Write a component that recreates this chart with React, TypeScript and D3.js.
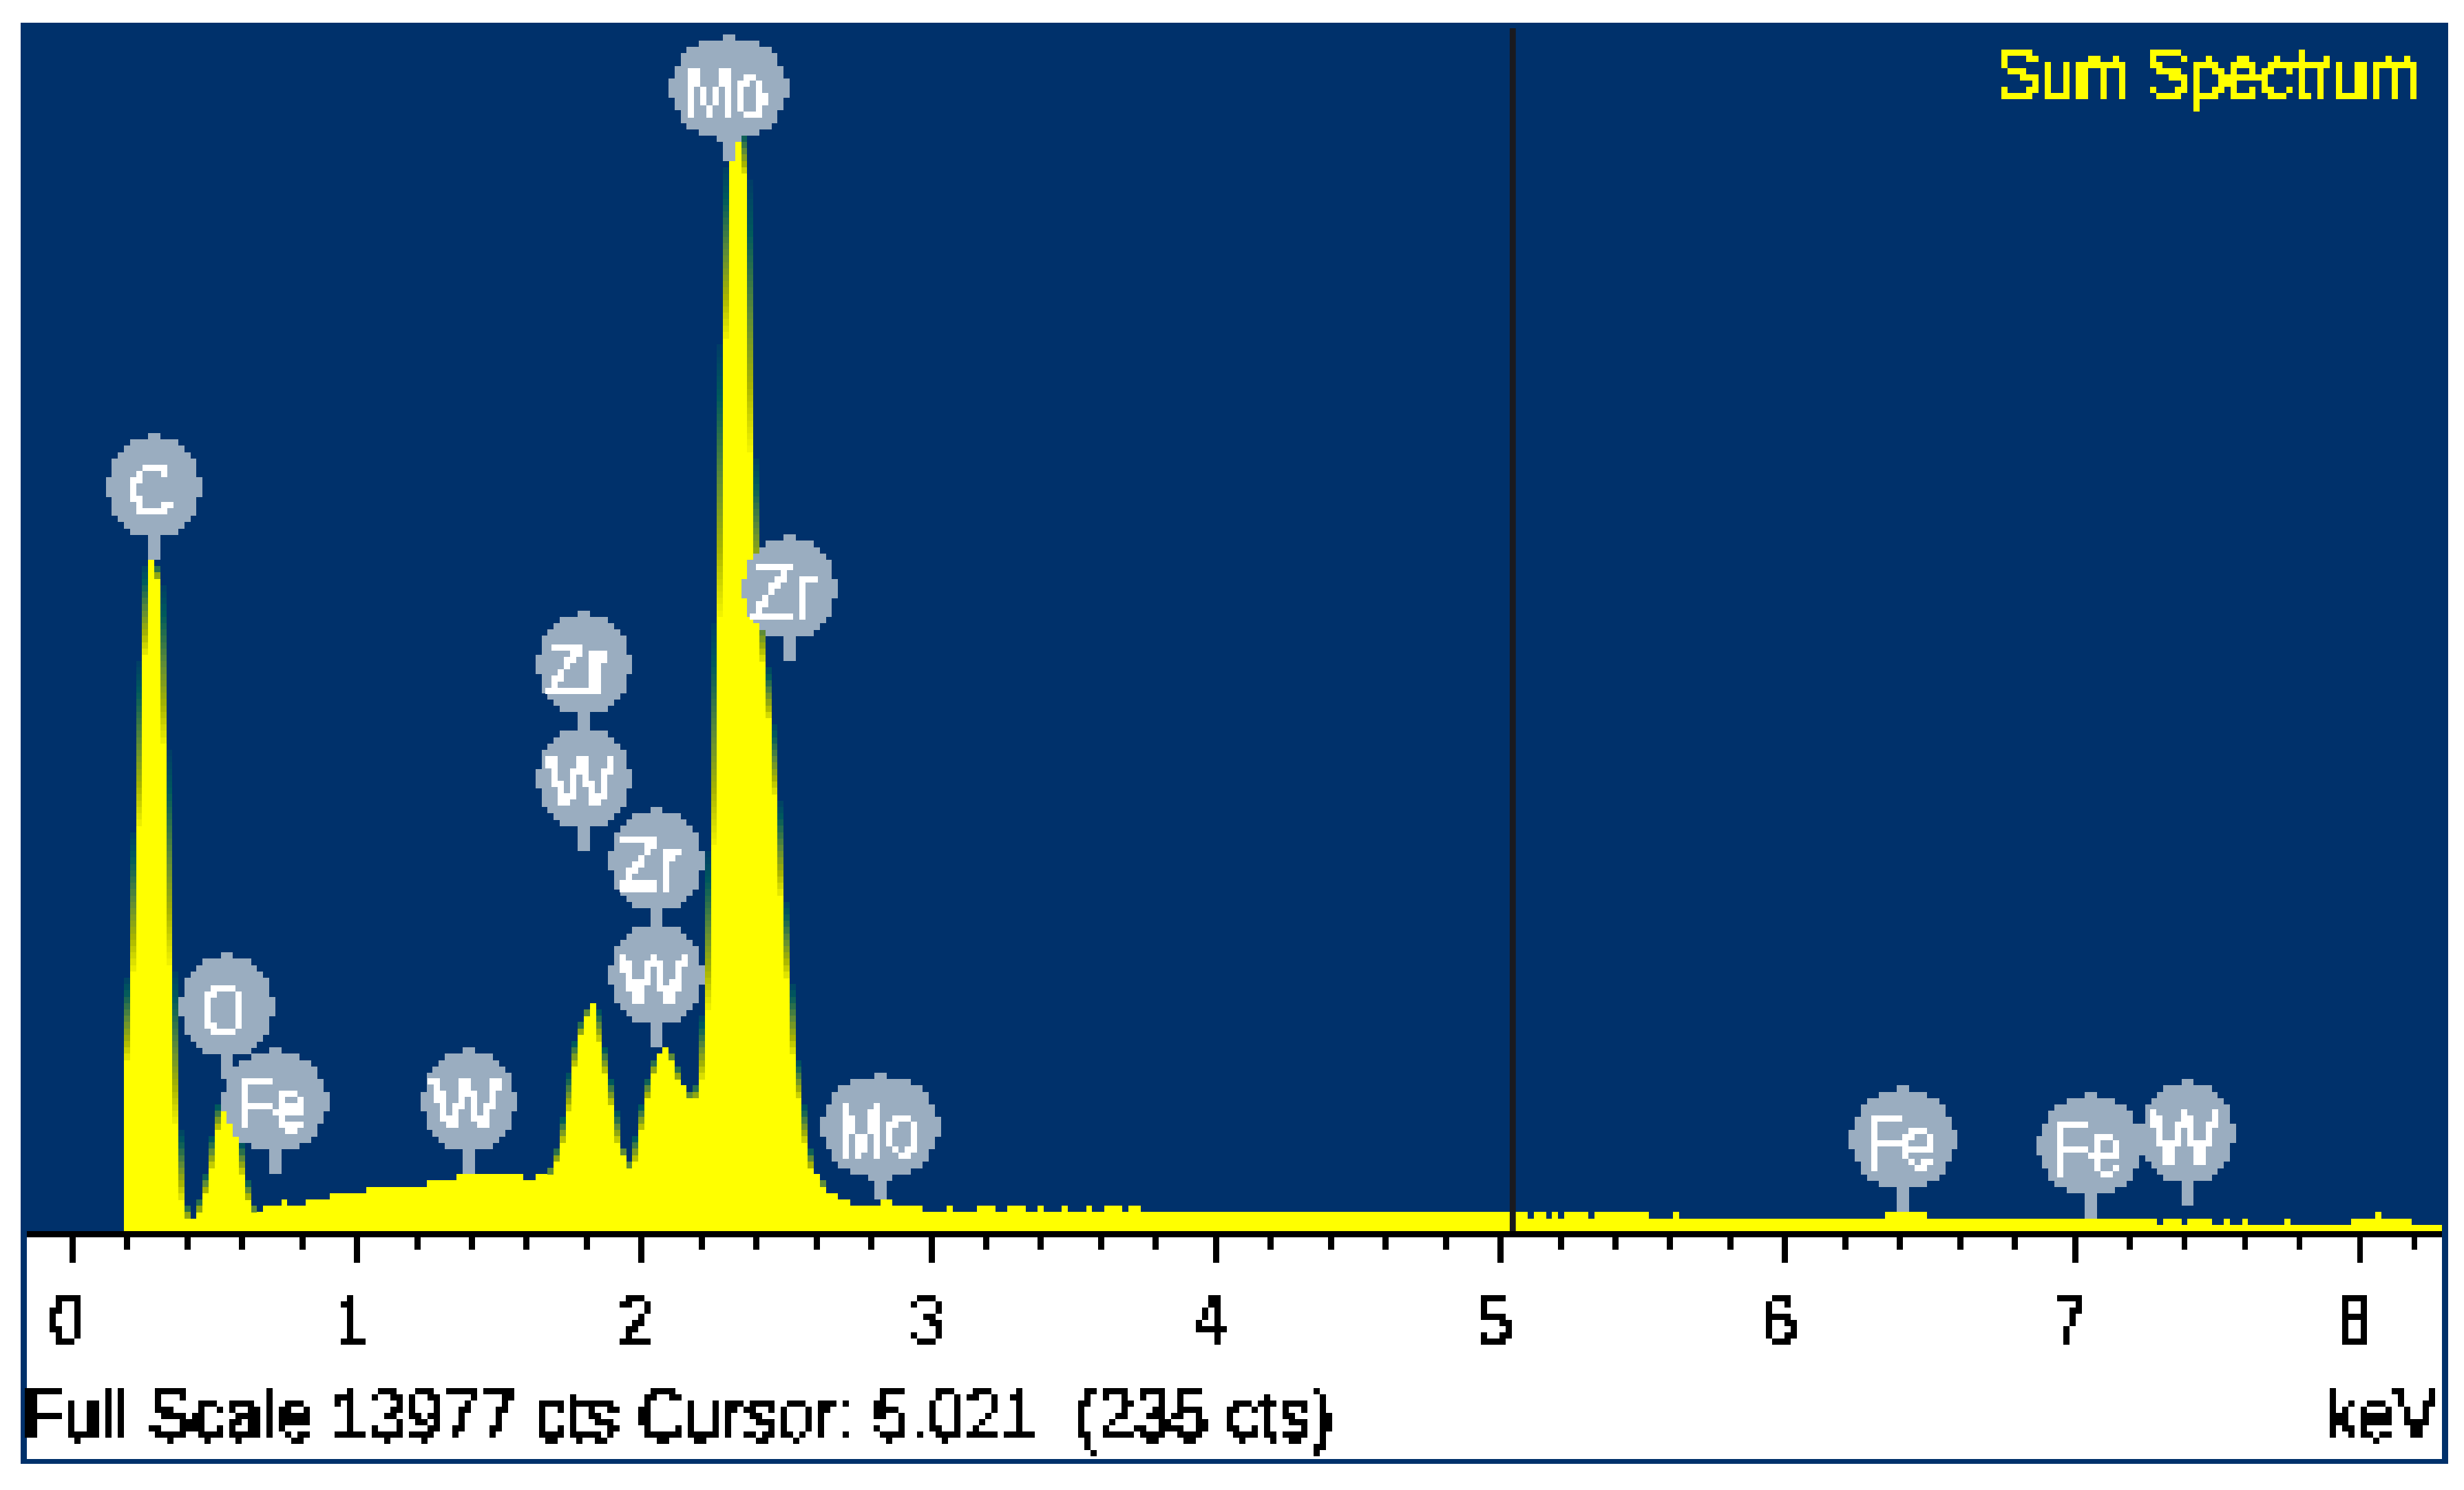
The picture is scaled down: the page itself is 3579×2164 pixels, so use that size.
import React from "react";
import * as d3 from "d3";

// Display columns of the spectrum, run-length: first column of a run and its height in screen rows
const runStarts = [
  0, 1, 2, 3, 4, 5, 6, 7, 8, 9, 10, 12, 13, 14, 15, 16, 17, 18, 19, 20, 21, 23, 26, 27, 30, 34, 40, 50, 55, 66, 68, 71,
  72, 73, 74, 75, 76, 77, 78, 79, 80, 81, 82, 83, 84, 85, 86, 87, 88, 89, 90, 91, 92, 93, 95, 96, 97, 98, 99, 100, 101,
  102, 103, 104, 105, 106, 107, 108, 109, 110, 111, 112, 113, 114, 115, 116, 118, 120, 125, 127, 132, 136, 137, 141,
  144, 146, 149, 151, 152, 155, 156, 159, 160, 162, 165, 166, 168, 232, 233, 235, 236, 237, 238, 242, 243, 252, 256,
  257, 291, 298, 336, 337, 340, 341, 345, 347, 348, 350, 351, 357, 358, 368, 372, 373, 378,
];
const runRows = [
  27, 41, 64, 91, 106, 103, 77, 42, 17, 5, 2, 3, 6, 10, 16, 21, 19, 15, 9, 5, 3, 4, 5, 4, 5, 6, 7, 8, 9, 8, 9, 11,
  14, 19, 26, 31, 34, 36, 30, 25, 20, 14, 12, 10, 11, 16, 21, 25, 28, 29, 27, 24, 23, 21, 24, 35, 61, 97, 141, 169, 175,
  167, 123, 100, 90, 81, 69, 53, 40, 28, 21, 14, 10, 9, 7, 6, 5, 4, 5, 4, 3, 4, 3, 4,
  3, 4, 3, 4, 3, 4, 3, 4, 3, 4, 3, 4, 3, 2, 3, 2, 3, 2, 3, 2, 3, 2, 3,
  2, 3, 2, 1, 2, 1, 2, 1, 2, 1, 2, 1, 2, 1, 2, 3, 2, 1,
];
const channelCount = 383;

const peakLabels = ["C", "O", "Fe", "W", "Zr", "W", "Zr", "W", "Mo", "Zr", "Mo", "Fe", "Fe", "W"];
const peakEnergies = [0.28, 0.525, 0.705, 1.38, 1.78, 1.78, 2.04, 2.04, 2.29, 2.5, 2.81, 6.4, 7.05, 7.39];
const peakStemRows = [106, 24, 9, 9, 78, 60, 47, 29, 169, 90, 5, 3, 2, 4];

const tickValues = d3.range(0, 42).map((i) => i / 5);
const tickLabels = ["0", "1", "2", "3", "4", "5", "6", "7", "8"];

const cursorKeV = 5.04;
const titleText = "Sum Spectrum";
const footerText = "Full Scale 13977 cts Cursor: 5.021  (235 cts)";
const unitText = "keV";

const NAVY = "#00316b";
const YELLOW = "#ffff00";
const BUBBLE = "#9aadc0";
const FONT = "'Liberation Sans', Arial, sans-serif";

const colW = 8.79;
const rowH = 9.198;
const baseY = 1788;

const x = d3.scaleLinear().domain([0, channelCount]).range([180, 180 + colW * channelCount]);
const y = d3.scaleLinear().domain([0, 190.8]).range([baseY, 33]);
// keV to display column, the old software snaps everything to whole screen pixels
const keVToCol = d3.scaleLinear().domain([0, 8]).range([-9, 369]);
const snapCol = (kev: number) => Math.floor(keVToCol(kev) + 0.3);

const fade = d3
  .scaleLinear<string>()
  .domain([0, 0.2, 0.5, 0.75, 1])
  .range(["#003a68", "#005a5c", "#5f8c36", "#a8b400", "#f8f800"]);

// widths in screen pixels of each row of a marker bubble
const bubbleRows: Record<number, number[]> = {
  16: [2, 8, 10, 12, 14, 14, 14, 16, 16, 16, 14, 14, 14, 12, 10, 8],
  18: [2, 8, 12, 14, 14, 16, 16, 18, 18, 18, 16, 16, 14, 14, 12, 8],
  20: [2, 10, 14, 16, 16, 18, 18, 20, 20, 20, 18, 18, 16, 16, 14, 10, 4],
};
const bubbleWidth: Record<string, number> = { C: 16, O: 16, W: 16, Zr: 16, Fe: 18, Mo: 20 };
const labelWidth: Record<string, number> = { C: 64, O: 66, W: 102, Zr: 94, Fe: 102, Mo: 120 };

function bubblePath(cx: number, stemRow: number, width: number) {
  const p = d3.path();
  const top = y(stemRow + 20);
  bubbleRows[width].forEach((w, i) => {
    p.rect(cx - (w * colW) / 2, top + i * rowH, w * colW, rowH + 0.5);
  });
  p.rect(cx - colW, top + 15 * rowH, colW * 2, rowH * 5);
  return p.toString();
}

export default function App() {
  const columns: number[] = new Array(channelCount).fill(0);
  runStarts.forEach((start, i) => {
    const end = i + 1 < runStarts.length ? runStarts[i + 1] : channelCount;
    for (let k = start; k < end; k++) columns[k] = runRows[i];
  });

  const area = d3
    .area<number>()
    .x((_, i) => x(i))
    .y0(baseY)
    .y1((d) => y(d))
    .curve(d3.curveStepAfter);
  const areaPath = area([...columns, columns[channelCount - 1]]) || "";

  // soft edge next to steep flanks, one column wide, blocks per row
  const fadeCells: { col: number; row: number; color: string }[] = [];
  columns.forEach((h, k) => {
    const tallest = Math.max(columns[k - 1] ?? 0, columns[k + 1] ?? 0);
    const n = tallest - 1 - h;
    for (let i = 0; i < n; i++) {
      fadeCells.push({ col: k, row: tallest - 1 - i, color: fade((i + 1) / (n + 1)) });
    }
  });

  const textProps = {
    fontFamily: FONT,
    fontSize: 105,
    lengthAdjust: "spacingAndGlyphs",
    strokeWidth: 2,
  } as const;

  return (
    <svg
      width={3579}
      height={2164}
      viewBox="0 0 3579 2164"
      style={{ position: "absolute", left: 0, top: 0, background: "#fff" }}
    >
      <defs>
        <filter
          id="pixelate"
          filterUnits="userSpaceOnUse"
          primitiveUnits="userSpaceOnUse"
          x={0}
          y={0}
          width={3579}
          height={2164}
          colorInterpolationFilters="sRGB"
        >
          <feFlood x={4} y={4} width={1} height={1} floodColor="#000" />
          <feComposite x={0} y={0} width={9} height={9} />
          <feTile result="grid" />
          <feComposite in="SourceGraphic" in2="grid" operator="in" />
          <feComponentTransfer>
            <feFuncA type="discrete" tableValues="0 1 1 1" />
          </feComponentTransfer>
          <feMorphology operator="dilate" radius={4} />
        </filter>
      </defs>

      <rect x={30} y={33} width={3526} height={2093} fill={NAVY} />
      <rect x={39} y={1797} width={3508} height={322} fill="#fff" />

      <path d={areaPath} fill={YELLOW} shapeRendering="crispEdges" />
      <g shapeRendering="crispEdges">
        {fadeCells.map((c, i) => (
          <rect key={i} x={x(c.col)} y={y(c.row)} width={colW} height={rowH + 0.5} fill={c.color} />
        ))}
      </g>

      <rect x={39} y={baseY} width={3508} height={9} fill="#000" />
      <rect x={x(snapCol(cursorKeV))} y={41} width={colW} height={baseY - 41} fill="#1a1a1e" />

      <g fill="#000" shapeRendering="crispEdges">
        {tickValues.map((v, i) => (
          <rect
            key={i}
            x={x(snapCol(v))}
            y={1797}
            width={colW}
            height={i % 5 === 0 ? rowH * 4 : rowH * 2}
          />
        ))}
      </g>

      <g fill={BUBBLE} shapeRendering="crispEdges">
        {peakLabels.map((label, i) => (
          <path key={i} d={bubblePath(x(snapCol(peakEnergies[i]) + 1), peakStemRows[i], bubbleWidth[label])} />
        ))}
      </g>

      <g filter="url(#pixelate)">
        {peakLabels.map((label, i) => (
          <text
            key={i}
            {...textProps}
            x={x(snapCol(peakEnergies[i]) + 1) - (label === "Zr" ? 9 : 4.4)}
            y={y(peakStemRows[i] + 20) + rowH * 13}
            textAnchor="middle"
            textLength={labelWidth[label]}
            fill="#fff"
            stroke="#fff"
          >
            {label}
          </text>
        ))}
        <text {...textProps} x={3517} y={143} textAnchor="end" textLength={617} fill={YELLOW} stroke={YELLOW}>
          {titleText}
        </text>
        {tickLabels.map((t, i) => (
          <text
            key={t}
            {...textProps}
            x={x(snapCol(i)) + 4.4 - 8}
            y={1953}
            textAnchor="middle"
            textLength={50}
            fill="#000"
            stroke="#000"
          >
            {t}
          </text>
        ))}
        <text {...textProps} x={33} y={2091} textLength={1903} fill="#000" stroke="#000" style={{ whiteSpace: "pre" }}>
          {footerText}
        </text>
        <text {...textProps} x={3378} y={2091} textLength={163} fill="#000" stroke="#000">
          {unitText}
        </text>
      </g>
    </svg>
  );
}
